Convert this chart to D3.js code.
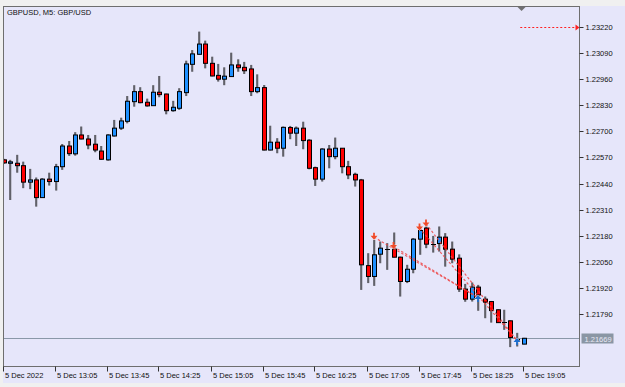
<!DOCTYPE html>
<html>
<head>
<meta charset="utf-8">
<script src="https://cdn.jsdelivr.net/npm/d3@7"></script>
<style>
  body { margin: 0; background: #e6e6fa; }
  svg { display: block; }
  text { font-family: "Liberation Sans", Arial, sans-serif; font-size: 7.5px; }
</style>
</head>
<body>
<script>
// ---------- data (GBPUSD M5, 5 Dec 12:25 .. 19:05) ----------
const opens = [1.22558,1.22541,1.22541,1.22529,1.22447,1.22458,1.22370,1.22462,1.22450,1.22524,
  1.22627,1.22588,1.22682,1.22662,1.22636,1.22602,1.22558,1.22677,1.22716,1.22750,
  1.22848,1.22898,1.22845,1.22828,1.22895,1.22886,1.22803,1.22815,1.22893,1.23034,
  1.23084,1.23135,1.23039,1.22979,1.22960,1.22973,1.23031,1.23019,1.23011,1.22898,
  1.22918,1.22607,1.22646,1.22616,1.22719,1.22691,1.22716,1.22656,1.22519,1.22462,
  1.22612,1.22574,1.22616,1.22524,1.22486,1.22458,1.22031,1.21977,1.22088,1.22113,
  1.22113,1.22073,1.21952,1.22013,1.22163,1.22218,1.22141,1.22141,1.22173,1.22113,
  1.22068,1.21914,1.21864,1.21924,1.21864,1.21852,1.21811,1.21752,1.21756,1.21656,
  1.21640];
const highs = [1.22563,1.22558,1.22583,1.22549,1.22513,1.22470,1.22467,1.22494,1.22538,1.22637,
  1.22652,1.22696,1.22724,1.22682,1.22682,1.22627,1.22686,1.22757,1.22768,1.22876,
  1.22930,1.22920,1.22863,1.22930,1.22976,1.22888,1.22852,1.22915,1.23052,1.23105,
  1.23197,1.23152,1.23072,1.23036,1.23019,1.23092,1.23059,1.23046,1.23031,1.22984,
  1.22931,1.22728,1.22666,1.22724,1.22727,1.22724,1.22748,1.22661,1.22524,1.22616,
  1.22632,1.22669,1.22617,1.22553,1.22494,1.22463,1.22093,1.22159,1.22151,1.22143,
  1.22196,1.22076,1.22035,1.22168,1.22226,1.22226,1.22179,1.22226,1.22193,1.22151,
  1.22087,1.21940,1.21947,1.21935,1.21877,1.21855,1.21813,1.21811,1.21758,1.21696,
  1.21671];
const lows = [1.22538,1.22358,1.22494,1.22417,1.22412,1.22325,1.22368,1.22430,1.22405,1.22508,
  1.22578,1.22579,1.22660,1.22611,1.22596,1.22558,1.22554,1.22674,1.22707,1.22740,
  1.22823,1.22840,1.22823,1.22827,1.22870,1.22785,1.22798,1.22807,1.22876,1.22997,
  1.23082,1.23014,1.22974,1.22948,1.22930,1.22971,1.22997,1.22986,1.22876,1.22890,
  1.22605,1.22605,1.22591,1.22574,1.22661,1.22627,1.22611,1.22511,1.22428,1.22450,
  1.22516,1.22561,1.22491,1.22462,1.22425,1.21910,1.21944,1.21930,1.22043,1.22010,
  1.22072,1.21877,1.21944,1.21993,1.22085,1.22118,1.22096,1.22101,1.22026,1.22043,
  1.21900,1.21851,1.21852,1.21806,1.21769,1.21747,1.21746,1.21711,1.21625,1.21628,
  1.21639];
const closes = [1.22543,1.22548,1.22529,1.22447,1.22458,1.22370,1.22462,1.22450,1.22524,1.22627,
  1.22589,1.22682,1.22662,1.22632,1.22607,1.22561,1.22682,1.22716,1.22752,1.22850,
  1.22898,1.22843,1.22827,1.22895,1.22883,1.22803,1.22820,1.22898,1.23036,1.23086,
  1.23135,1.23039,1.22976,1.22960,1.22975,1.23031,1.23017,1.23002,1.22898,1.22918,
  1.22607,1.22646,1.22616,1.22720,1.22691,1.22716,1.22654,1.22516,1.22462,1.22612,
  1.22574,1.22616,1.22524,1.22483,1.22458,1.22035,1.21977,1.22085,1.22118,1.22113,
  1.22073,1.21952,1.22013,1.22163,1.22206,1.22138,1.22141,1.22173,1.22113,1.22063,
  1.21914,1.21864,1.21924,1.21885,1.21849,1.21807,1.21747,1.21752,1.21673,1.21663,
  1.21669];

const xTickIdx = [0, 8, 16, 24, 32, 40, 48, 56, 64, 72, 80];
const xTickLabels = ["5 Dec 2022", "5 Dec 13:05", "5 Dec 13:45", "5 Dec 14:25", "5 Dec 15:05",
  "5 Dec 15:45", "5 Dec 16:25", "5 Dec 17:05", "5 Dec 17:45", "5 Dec 18:25", "5 Dec 19:05"];
const yTicks = [1.23220, 1.23090, 1.22960, 1.22830, 1.22700, 1.22570, 1.22440,
  1.22310, 1.22180, 1.22050, 1.21920, 1.21790];

// sell entries and their closing (buy) points
const entryIdx = [57, 60, 64, 65];
const entryPrice = [1.22173, 1.22126, 1.22218, 1.22239];
const exitIdx = [73, 73, 79, 79];
const exitPrice = [1.21872, 1.21872, 1.21658, 1.21658];
const levelPrice = 1.23220;

const title = "GBPUSD, M5:  GBP/USD";

// ---------- layout ----------
const W = 625, H = 387;
const plot = { left: 3.5, top: 6.5, right: 579.5, bottom: 366.5 };

const svg = d3.select("body").append("svg")
    .attr("width", W)
    .attr("height", H);

svg.append("rect").attr("width", W).attr("height", H).attr("fill", "#f0f0f0");
svg.append("rect").attr("x", 3).attr("y", 6).attr("width", W - 3).attr("height", 377)
    .attr("fill", "#e6e6fa");

const x = d3.scaleLinear().domain([0, 80]).range([3.5, 523.5]);
const y = d3.scaleLinear().domain([1.21790, 1.23220]).range([314, 27]);

svg.append("clipPath").attr("id", "clip")
  .append("rect")
    .attr("x", plot.left).attr("y", plot.top)
    .attr("width", plot.right - plot.left).attr("height", plot.bottom - plot.top);

const chart = svg.append("g").attr("clip-path", "url(#clip)");

const bars = d3.range(opens.length).map(i => ({
    i: i, o: opens[i], h: highs[i], l: lows[i], c: closes[i]
}));

// last price line
const last = closes[closes.length - 1];
chart.append("line")
    .attr("x1", plot.left).attr("x2", plot.right)
    .attr("y1", Math.round(y(last)) + 0.5).attr("y2", Math.round(y(last)) + 0.5)
    .attr("stroke", "#8a98a8");

// wicks (black line with soft grey shade)
chart.selectAll(".wick-shade")
    .data(bars)
    .enter()
    .append("line")
    .attr("x1", d => Math.round(x(d.i)) + 1).attr("x2", d => Math.round(x(d.i)) + 1)
    .attr("y1", d => y(d.h)).attr("y2", d => y(d.l))
    .attr("stroke", "#a0a0aa").attr("stroke-width", 1);

chart.selectAll(".wick")
    .data(bars)
    .enter()
    .append("line")
    .attr("x1", d => Math.round(x(d.i))).attr("x2", d => Math.round(x(d.i)))
    .attr("y1", d => y(d.h)).attr("y2", d => y(d.l))
    .attr("stroke", "#000").attr("stroke-width", 1);

// bodies
const bodies = bars.filter(d => Math.abs(d.o - d.c) >= 0.00003);
chart.selectAll(".body")
    .data(bodies)
    .enter()
    .append("rect")
    .attr("x", d => Math.round(x(d.i)) - 1.5)
    .attr("y", d => y(Math.max(d.o, d.c)))
    .attr("width", 4)
    .attr("height", d => Math.max(1, y(Math.min(d.o, d.c)) - y(Math.max(d.o, d.c))))
    .attr("fill", d => d.c > d.o ? "#1e90ff" : "#ff0000")
    .attr("stroke", "#000").attr("stroke-width", 1);

// doji
chart.selectAll(".doji")
    .data(bars.filter(d => Math.abs(d.o - d.c) < 0.00003))
    .enter()
    .append("line")
    .attr("x1", d => Math.round(x(d.i)) - 2).attr("x2", d => Math.round(x(d.i)) + 3)
    .attr("y1", d => Math.round(y(d.c)) + 0.5).attr("y2", d => Math.round(y(d.c)) + 0.5)
    .attr("stroke", "#000");

// trade lines
chart.selectAll(".trade")
    .data(entryIdx)
    .enter()
    .append("line")
    .attr("x1", (d, k) => x(d)).attr("y1", (d, k) => y(entryPrice[k]))
    .attr("x2", (d, k) => x(exitIdx[k])).attr("y2", (d, k) => y(exitPrice[k]))
    .attr("stroke", "#f04848").attr("stroke-width", 1.2)
    .attr("stroke-dasharray", "2.5,2").attr("opacity", 0.85);

// entry markers (sell) and exit markers (buy)
function marker(g, cx, cy, color, up) {
    const s = up ? -1 : 1;
    const m = g.append("g");
    m.append("path")
        .attr("d", `M${cx - 3.5},${cy - s * 1.5} L${cx + 3.5},${cy - s * 1.5} L${cx},${cy + s * 2.5} Z`)
        .attr("fill", color).attr("stroke", "#f4f0f8").attr("stroke-width", 0.8)
        .attr("paint-order", "stroke");
    m.append("line")
        .attr("x1", cx).attr("x2", cx)
        .attr("y1", cy - s * 4.5).attr("y2", cy)
        .attr("stroke", color).attr("stroke-width", 1.8);
}
entryIdx.forEach((d, k) => marker(chart, x(d), y(entryPrice[k]), "#f04a2a", false));
exitIdx.filter((d, k) => exitIdx.indexOf(d) === k)
    .forEach(d => marker(chart, x(d), y(exitPrice[exitIdx.indexOf(d)]), "#1e6fd0", true));

// level line at top right
chart.append("line")
    .attr("x1", x(79.5)).attr("x2", plot.right - 3)
    .attr("y1", Math.round(y(levelPrice)) + 0.5).attr("y2", Math.round(y(levelPrice)) + 0.5)
    .attr("stroke", "#ff2020").attr("stroke-dasharray", "2,2");
svg.append("path")
    .attr("d", `M${plot.right - 4},${Math.round(y(levelPrice)) - 2.5} L${plot.right},${Math.round(y(levelPrice)) + 0.5} L${plot.right - 4},${Math.round(y(levelPrice)) + 3.5} Z`)
    .attr("fill", "#ff2020");

// chart shift marker
svg.append("path")
    .attr("d", `M${x(79.7) - 4},7 L${x(79.7) + 4},7 L${x(79.7)},11 Z`)
    .attr("fill", "#707070");

// frame
svg.append("rect")
    .attr("x", plot.left).attr("y", plot.top)
    .attr("width", plot.right - plot.left).attr("height", plot.bottom - plot.top)
    .attr("fill", "none").attr("stroke", "#6e6e6e");

// y axis
const yAxis = svg.append("g");
yAxis.selectAll("line")
    .data(yTicks)
    .enter()
    .append("line")
    .attr("x1", plot.right).attr("x2", plot.right + 4)
    .attr("y1", d => Math.round(y(d)) + 0.5).attr("y2", d => Math.round(y(d)) + 0.5)
    .attr("stroke", "#333");
yAxis.selectAll("text")
    .data(yTicks)
    .enter()
    .append("text")
    .attr("x", plot.right + 6)
    .attr("y", d => y(d) + 3)
    .attr("fill", "#111")
    .text(d => d.toFixed(5));

// last price label
const ly = Math.round(y(last)) + 0.5;
svg.append("rect")
    .attr("x", plot.right + 2).attr("y", ly - 5)
    .attr("width", 32).attr("height", 10)
    .attr("fill", "#8a96a4");
svg.append("text")
    .attr("x", plot.right + 5).attr("y", ly + 3)
    .attr("fill", "#e8e8f4")
    .text(last.toFixed(5));

// x axis
const xAxis = svg.append("g");
xAxis.selectAll("line")
    .data(xTickIdx)
    .enter()
    .append("line")
    .attr("x1", d => Math.round(x(d)) - 0.5).attr("x2", d => Math.round(x(d)) - 0.5)
    .attr("y1", plot.bottom).attr("y2", plot.bottom + 5)
    .attr("stroke", "#333");
xAxis.selectAll("text")
    .data(xTickIdx)
    .enter()
    .append("text")
    .attr("x", (d, k) => Math.max(5, Math.round(x(d)) + 1))
    .attr("y", 378)
    .attr("fill", "#111")
    .text((d, k) => xTickLabels[k]);

// title
svg.append("text")
    .attr("x", 7).attr("y", 15)
    .attr("fill", "#111")
    .text(title);
</script>
</body>
</html>
